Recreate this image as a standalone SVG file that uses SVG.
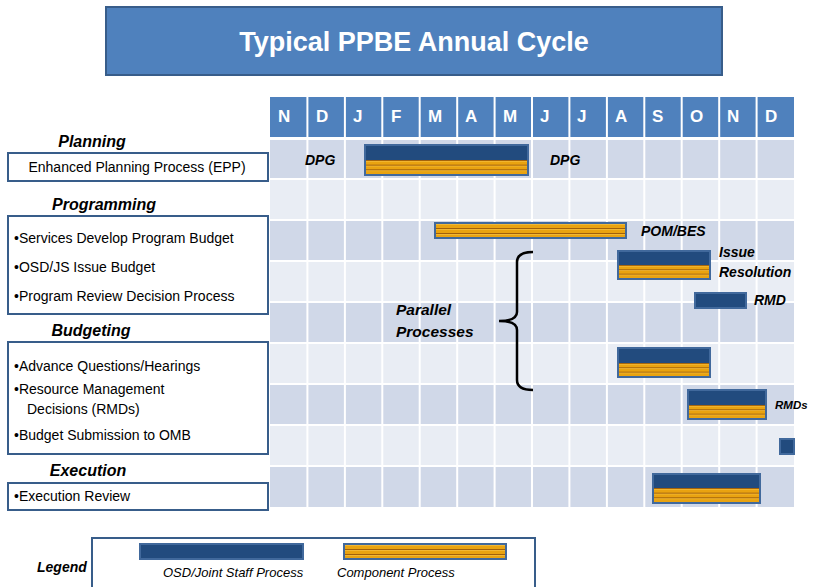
<svg xmlns="http://www.w3.org/2000/svg" width="815" height="587" viewBox="0 0 815 587">
<defs>
<pattern id="stripes" patternUnits="objectBoundingBox" patternContentUnits="objectBoundingBox" width="1" height="0.3333">
<rect x="0" y="0" width="1" height="0.3333" fill="#e9a310"/>
<rect x="0" y="0" width="1" height="0.07" fill="#a0600a"/>
<rect x="0" y="0.07" width="1" height="0.05" fill="#f5c040"/>
</pattern>
<style>
.bg{fill:#ffffff}
.title{fill:#4f81bd;stroke:#385d8a;stroke-width:2}
.tt{font-family:"Liberation Sans",Arial,sans-serif;font-weight:bold;font-size:27px;fill:#ffffff}
.hdr{fill:#4f81bd}
.hl{font-family:"Liberation Sans",Arial,sans-serif;font-weight:bold;font-size:17px;fill:#ffffff}
.dark{fill:#d0d8e8}
.light{fill:#e9edf4}
.grid{stroke:#ffffff;stroke-width:2}
.box{fill:#ffffff;stroke:#385d8a;stroke-width:2}
.cat{font-family:"Liberation Sans",Arial,sans-serif;font-weight:bold;font-style:italic;font-size:16px;fill:#000000}
.item{font-family:"Liberation Sans",Arial,sans-serif;font-size:14px;fill:#000000}
.lbl{font-family:"Liberation Sans",Arial,sans-serif;font-weight:bold;font-style:italic;font-size:14px;fill:#000000}
.big{font-size:15.5px}
.small{font-size:11.5px}
.bar{stroke:#41699c;stroke-width:2}
.blue{fill:#224b7e}
.orange{fill:url(#stripes)}
.leg{font-family:"Liberation Sans",Arial,sans-serif;font-style:italic;font-size:13px;fill:#000000}
.brace{fill:none;stroke:#000000;stroke-width:2.5}
</style>
</defs>
<rect class="bg" x="0" y="0" width="815" height="587"/>

<g id="title">
<rect class="title" x="106" y="7" width="616" height="68"/>
<text class="tt" x="414" y="51" text-anchor="middle">Typical PPBE Annual Cycle</text>
</g>

<g id="table">
<rect class="hdr" x="270" y="97" width="524" height="41"/>
<rect class="dark" x="270" y="138" width="524" height="41"/>
<rect class="light" x="270" y="179" width="524" height="41"/>
<rect class="dark" x="270" y="220" width="524" height="41"/>
<rect class="light" x="270" y="261" width="524" height="41"/>
<rect class="dark" x="270" y="302" width="524" height="41"/>
<rect class="light" x="270" y="343" width="524" height="41"/>
<rect class="dark" x="270" y="384" width="524" height="41"/>
<rect class="light" x="270" y="425" width="524" height="41"/>
<rect class="dark" x="270" y="466" width="524" height="41"/>
<g class="grid">
<line x1="307.4" y1="97" x2="307.4" y2="507"/>
<line x1="344.9" y1="97" x2="344.9" y2="507"/>
<line x1="382.3" y1="97" x2="382.3" y2="507"/>
<line x1="419.7" y1="97" x2="419.7" y2="507"/>
<line x1="457.2" y1="97" x2="457.2" y2="507"/>
<line x1="494.6" y1="97" x2="494.6" y2="507"/>
<line x1="532" y1="97" x2="532" y2="507"/>
<line x1="569.4" y1="97" x2="569.4" y2="507"/>
<line x1="606.9" y1="97" x2="606.9" y2="507"/>
<line x1="644.3" y1="97" x2="644.3" y2="507"/>
<line x1="681.7" y1="97" x2="681.7" y2="507"/>
<line x1="719.2" y1="97" x2="719.2" y2="507"/>
<line x1="756.6" y1="97" x2="756.6" y2="507"/>
<line x1="270" y1="138.5" x2="794" y2="138.5" stroke-width="3"/>
<line x1="270" y1="179" x2="794" y2="179"/>
<line x1="270" y1="220" x2="794" y2="220"/>
<line x1="270" y1="261" x2="794" y2="261"/>
<line x1="270" y1="302" x2="794" y2="302"/>
<line x1="270" y1="343" x2="794" y2="343"/>
<line x1="270" y1="384" x2="794" y2="384"/>
<line x1="270" y1="425" x2="794" y2="425"/>
<line x1="270" y1="466" x2="794" y2="466"/>
</g>
<text class="hl" x="278" y="122">N</text>
<text class="hl" x="316" y="122">D</text>
<text class="hl" x="353" y="122">J</text>
<text class="hl" x="391" y="122">F</text>
<text class="hl" x="428" y="122">M</text>
<text class="hl" x="465" y="122">A</text>
<text class="hl" x="503" y="122">M</text>
<text class="hl" x="540" y="122">J</text>
<text class="hl" x="577" y="122">J</text>
<text class="hl" x="615" y="122">A</text>
<text class="hl" x="652" y="122">S</text>
<text class="hl" x="690" y="122">O</text>
<text class="hl" x="727" y="122">N</text>
<text class="hl" x="765" y="122">D</text>
</g>

<g id="planning">
<text class="cat" x="92" y="147" text-anchor="middle">Planning</text>
<rect class="box" x="8" y="153" width="260" height="28"/>
<text class="item" x="137" y="172" text-anchor="middle">Enhanced Planning Process (EPP)</text>
</g>

<g id="programming">
<text class="cat" x="104" y="210" text-anchor="middle">Programming</text>
<rect class="box" x="8" y="216" width="260" height="98"/>
<text class="item" x="14" y="243">•Services Develop Program Budget</text>
<text class="item" x="14" y="272">•OSD/JS Issue Budget</text>
<text class="item" x="14" y="301">•Program Review Decision Process</text>
</g>

<g id="budgeting">
<text class="cat" x="91" y="336" text-anchor="middle">Budgeting</text>
<rect class="box" x="8" y="342" width="260" height="112"/>
<text class="item" x="14" y="371">•Advance Questions/Hearings</text>
<text class="item" x="14" y="394">•Resource Management</text>
<text class="item" x="27" y="414">Decisions (RMDs)</text>
<text class="item" x="14" y="440">•Budget Submission to OMB</text>
</g>

<g id="execution">
<text class="cat" x="88" y="476" text-anchor="middle">Execution</text>
<rect class="box" x="8" y="483" width="260" height="27"/>
<text class="item" x="14" y="501">•Execution Review</text>
</g>

<g id="bar-epp">
<rect class="bar blue" x="365" y="145" width="163" height="30"/>
<rect class="orange" x="366" y="160" width="161" height="14"/>
<text class="lbl" x="305" y="165">DPG</text>
<text class="lbl" x="550" y="165">DPG</text>
</g>

<g id="bar-pom">
<rect class="bar orange" x="435" y="223" width="191" height="15"/>
<text class="lbl" x="641" y="236">POM/BES</text>
</g>

<g id="bar-issue">
<rect class="bar blue" x="618" y="251" width="92" height="28"/>
<rect class="orange" x="619" y="265" width="90" height="13"/>
<text class="lbl" x="719" y="257">Issue</text>
<text class="lbl" x="719" y="277">Resolution</text>
</g>

<g id="bar-rmd">
<rect class="bar blue" x="695" y="293" width="51" height="15"/>
<text class="lbl" x="754" y="305">RMD</text>
</g>

<g id="bar-advance">
<rect class="bar blue" x="618" y="348" width="92" height="29"/>
<rect class="orange" x="619" y="363" width="90" height="13"/>
</g>

<g id="bar-rmds">
<rect class="bar blue" x="688" y="390" width="78" height="29"/>
<rect class="orange" x="689" y="405" width="76" height="13"/>
<text class="lbl small" x="775" y="409">RMDs</text>
</g>

<g id="bar-submission">
<rect class="bar blue" x="780" y="439" width="14" height="15"/>
</g>

<g id="bar-execution">
<rect class="bar blue" x="653" y="474" width="107" height="29"/>
<rect class="orange" x="654" y="488" width="105" height="14"/>
</g>

<g id="parallel">
<text class="lbl big" x="396" y="315">Parallel</text>
<text class="lbl big" x="396" y="337">Processes</text>
</g>

<g id="connectors">
<path class="brace" d="M533,252 Q517,252 517,262 L517,312 Q517,321 499,321 Q517,321 517,330 L517,380 Q517,390 533,390"/>
</g>

<g id="legend">
<text class="lbl" x="37" y="572">Legend</text>
<rect class="box" x="92" y="538" width="443" height="52"/>
<rect class="bar blue" x="140" y="544" width="163" height="15"/>
<rect class="bar orange" x="344" y="544" width="162" height="15"/>
<text class="leg" x="163" y="577">OSD/Joint Staff Process</text>
<text class="leg" x="337" y="577">Component Process</text>
</g>
</svg>
